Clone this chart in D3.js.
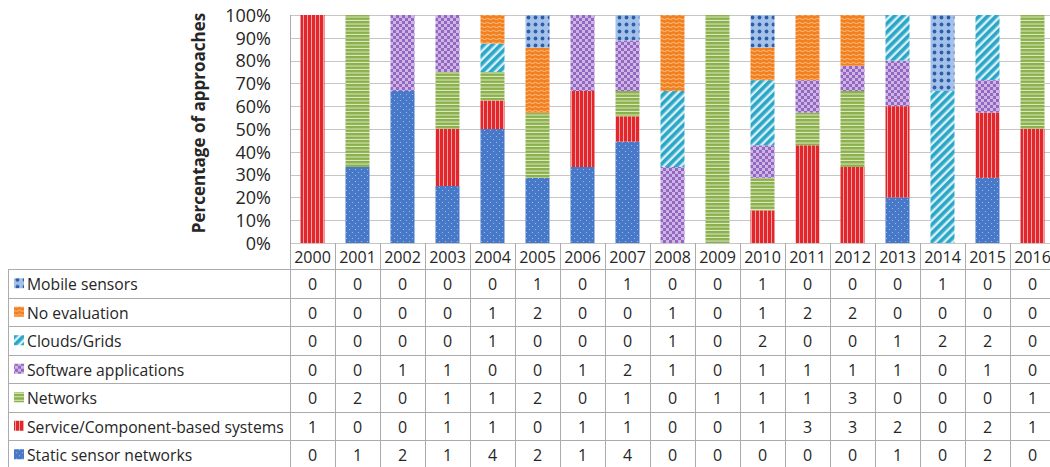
<!DOCTYPE html>
<html>
<head>
<meta charset="utf-8">
<script src="https://cdn.jsdelivr.net/npm/d3@7"></script>
<style>
  html, body { margin: 0; padding: 0; background: #ffffff; }
  svg { display: block; }
  text { font-family: "Open Sans", "Noto Sans", sans-serif; fill: #262626; }
</style>
</head>
<body>
<svg id="chart" width="1050" height="467"></svg>
<script>
// Publication years (one column each)
const years = ["2000","2001","2002","2003","2004","2005","2006","2007","2008",
               "2009","2010","2011","2012","2013","2014","2015","2016"];

// Number of approaches per year, by evaluation domain
const staticSensorNetworks   = [0,1,2,1,4,2,1,4,0,0,0,0,0,1,0,2,0];
const serviceComponentBased  = [1,0,0,1,1,0,1,1,0,0,1,3,3,2,0,2,1];
const networks               = [0,2,0,1,1,2,0,1,0,1,1,1,3,0,0,0,1];
const softwareApplications   = [0,0,1,1,0,0,1,2,1,0,1,1,1,1,0,1,0];
const cloudsGrids            = [0,0,0,0,1,0,0,0,1,0,2,0,0,1,2,2,0];
const noEvaluation           = [0,0,0,0,1,2,0,0,1,0,1,2,2,0,0,0,0];
const mobileSensors          = [0,0,0,0,0,1,0,1,0,0,1,0,0,0,1,0,0];

// Series in stacking order (bottom to top)
const seriesKeys   = ["static","service","networks","software","clouds","noeval","mobile"];
const seriesLabels = ["Static sensor networks","Service/Component-based systems","Networks",
                      "Software applications","Clouds/Grids","No evaluation","Mobile sensors"];
const seriesValues = [staticSensorNetworks, serviceComponentBased, networks,
                      softwareApplications, cloudsGrids, noEvaluation, mobileSensors];

// Y axis ticks (share of approaches)
const yTicks = [0,0.1,0.2,0.3,0.4,0.5,0.6,0.7,0.8,0.9,1];
const yAxisTitle = "Percentage of approaches";

// Per-year records for d3.stack
const rows = years.map((y, i) => {
  const r = { year: y };
  seriesKeys.forEach((k, j) => { r[k] = seriesValues[j][i]; });
  return r;
});

const svg = d3.select("#chart");

// ---------- fill patterns ----------
const defs = svg.append("defs");

function pat(id, w, h, extra) {
  const p = defs.append("pattern").attr("id", id)
    .attr("patternUnits", "userSpaceOnUse").attr("width", w).attr("height", h);
  if (extra) p.attr("patternTransform", extra);
  return p;
}
// Static sensor networks: blue with fine light dots
{
  const p = pat("p-static", 6, 6);
  p.append("rect").attr("width", 6).attr("height", 6).attr("fill", "#4779c8");
  p.append("circle").attr("cx", 1.5).attr("cy", 1.5).attr("r", 0.6).attr("fill", "#a9c2ea");
  p.append("circle").attr("cx", 4.5).attr("cy", 4.5).attr("r", 0.6).attr("fill", "#a9c2ea");
}
// Service/Component-based: red with vertical light lines
{
  const p = pat("p-service", 4, 4);
  p.append("rect").attr("width", 4).attr("height", 4).attr("fill", "#e3262b");
  p.append("rect").attr("x", 3).attr("width", 1).attr("height", 4).attr("fill", "#f4a3a5");
}
// Networks: green with horizontal light lines
{
  const p = pat("p-networks", 4, 3.5);
  p.append("rect").attr("width", 4).attr("height", 3.5).attr("fill", "#8ab04a");
  p.append("rect").attr("y", 2.5).attr("width", 4).attr("height", 1).attr("fill", "#dfe9c9");
}
// Software applications: purple checker
{
  const p = pat("p-software", 6, 6);
  p.append("rect").attr("width", 6).attr("height", 6).attr("fill", "#9468c0");
  p.append("rect").attr("width", 3).attr("height", 3).attr("fill", "#cdb5e6");
  p.append("rect").attr("x", 3).attr("y", 3).attr("width", 3).attr("height", 3).attr("fill", "#cdb5e6");
}
// Clouds/Grids: teal diagonal stripes
{
  const p = pat("p-clouds", 6, 6, "rotate(45)");
  p.append("rect").attr("width", 6).attr("height", 6).attr("fill", "#d7f0f7");
  p.append("rect").attr("width", 3.6).attr("height", 6).attr("fill", "#2ba6c7");
}
// No evaluation: orange with wavy light lines
{
  const p = pat("p-noeval", 6, 4);
  p.append("rect").attr("width", 6).attr("height", 4).attr("fill", "#f3801f");
  p.append("path").attr("d", "M0,3 Q1.5,1.6 3,3 T6,3")
    .attr("fill", "none").attr("stroke", "#fbc899").attr("stroke-width", 0.9);
}
// Mobile sensors: light blue with dark blue dots
{
  const p = pat("p-mobile", 7, 7);
  p.append("rect").attr("width", 7).attr("height", 7).attr("fill", "#a3c1ea");
  p.append("circle").attr("cx", 3.5).attr("cy", 3.5).attr("r", 1.9).attr("fill", "#2e5ea6");
}
const fillOf = k => `url(#p-${k})`;

// ---------- scales ----------
const plotLeft = 290, colStep = 45;
const x = d3.scaleBand()
  .domain(years)
  .range([plotLeft, plotLeft + colStep * years.length])
  .paddingInner(21 / 45)
  .paddingOuter(10.5 / 45);
const yTop = 15, yBottom = 243;
const y = d3.scaleLinear().domain([0, 1]).range([yBottom, yTop]);

// ---------- gridlines ----------
const gridColor = "#c6c6c6";
svg.append("g").selectAll("line").data(yTicks).join("line")
  .attr("x1", plotLeft).attr("x2", 1050)
  .attr("y1", d => Math.round(y(d)) + 0.5).attr("y2", d => Math.round(y(d)) + 0.5)
  .attr("stroke", gridColor).attr("stroke-width", 1);

// ---------- stacked bars ----------
const stack = d3.stack().keys(seriesKeys).offset(d3.stackOffsetExpand);
const layers = stack(rows);

svg.append("g").selectAll("g").data(layers).join("g")
  .attr("fill", d => fillOf(d.key))
  .selectAll("rect").data(d => d).join("rect")
  .attr("x", d => x(d.data.year))
  .attr("width", x.bandwidth())
  .attr("y", d => y(d[1]))
  .attr("height", d => Math.max(0, y(d[0]) - y(d[1])));

// ---------- y axis ----------
const yAxis = d3.axisLeft(y).tickValues(yTicks).tickFormat(d3.format(".0%")).tickSize(0).tickPadding(0);
const gy = svg.append("g").attr("transform", "translate(271,0)").call(yAxis);
gy.select(".domain").remove();
gy.selectAll("text")
  .style("font-family", "'Open Sans', sans-serif")
  .style("font-size", "18px")
  .attr("fill", "#262626")
  .attr("dy", "0.35em");

svg.append("text")
  .attr("transform", `translate(198,${(yTop + yBottom) / 2 - 6}) rotate(-90)`)
  .attr("text-anchor", "middle")
  .attr("dominant-baseline", "central")
  .style("font-size", "17px")
  .style("font-weight", "bold")
  .text(yAxisTitle);

// ---------- data table ----------
const tableColor = "#ababab";
const headerTop = yBottom, headerBottom = 269, rowH = 28.5;
const tableRows = seriesKeys.map((k, j) => ({ key: k, label: seriesLabels[j], values: seriesValues[j] })).reverse();
const tableBottom = headerBottom + rowH * tableRows.length;
const legendLeft = 8;

const tbl = svg.append("g");

// left edge of the plot / table
tbl.append("line")
  .attr("x1", plotLeft + 0.5).attr("x2", plotLeft + 0.5)
  .attr("y1", yTop).attr("y2", tableBottom)
  .attr("stroke", tableColor);

// vertical separators between year columns
tbl.selectAll("line.col").data(years.slice(1).concat(["end"])).join("line")
  .attr("class", "col")
  .attr("x1", (d, i) => plotLeft + colStep * (i + 1) + 0.5)
  .attr("x2", (d, i) => plotLeft + colStep * (i + 1) + 0.5)
  .attr("y1", headerTop).attr("y2", tableBottom)
  .attr("stroke", tableColor);

// horizontal row lines
const hLines = d3.range(tableRows.length + 1).map(i => headerBottom + rowH * i);
tbl.selectAll("line.row").data(hLines).join("line")
  .attr("class", "row")
  .attr("x1", legendLeft).attr("x2", 1050)
  .attr("y1", d => Math.round(d) + 0.5).attr("y2", d => Math.round(d) + 0.5)
  .attr("stroke", tableColor);
tbl.append("line")
  .attr("x1", legendLeft + 0.5).attr("x2", legendLeft + 0.5)
  .attr("y1", headerBottom).attr("y2", tableBottom)
  .attr("stroke", tableColor);

// year header labels
tbl.selectAll("text.year").data(years).join("text")
  .attr("class", "year")
  .attr("x", d => x(d) + x.bandwidth() / 2)
  .attr("y", (headerTop + headerBottom) / 2 + 1)
  .attr("text-anchor", "middle")
  .attr("dominant-baseline", "central")
  .style("font-size", "16px")
  .text(d => d);

// legend swatches + labels
const rowG = tbl.selectAll("g.trow").data(tableRows).join("g")
  .attr("class", "trow")
  .attr("transform", (d, i) => `translate(0,${headerBottom + rowH * i + rowH / 2})`);

rowG.append("rect")
  .attr("x", 14).attr("y", -5).attr("width", 10).attr("height", 10)
  .attr("fill", d => fillOf(d.key));

rowG.append("text")
  .attr("x", 27).attr("y", 1)
  .attr("dominant-baseline", "central")
  .style("font-size", "15.7px")
  .text(d => d.label);

rowG.selectAll("text.val").data(d => d.values).join("text")
  .attr("class", "val")
  .attr("x", (v, i) => x(years[i]) + x.bandwidth() / 2)
  .attr("y", 1)
  .attr("text-anchor", "middle")
  .attr("dominant-baseline", "central")
  .style("font-size", "16px")
  .text(v => v);
</script>
</body>
</html>
